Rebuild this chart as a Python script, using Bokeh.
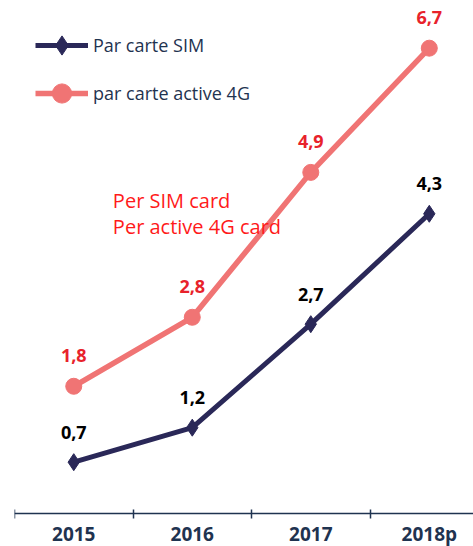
from bokeh.plotting import figure
from bokeh.models import Range1d, FixedTicker, Legend, LegendItem, Label, ColumnDataSource
from bokeh.embed import file_html
from bokeh.resources import INLINE
from bokeh.core.properties import value

years = ["2015", "2016", "2017", "2018p"]
per_sim = [0.7, 1.2, 2.7, 4.3]
per_4g = [1.8, 2.8, 4.9, 6.7]
sim_labels = ["0,7", "1,2", "2,7", "4,3"]
g4_labels = ["1,8", "2,8", "4,9", "6,7"]
legend_names = ["Par carte SIM", "par carte active 4G"]
note_lines = ["Per SIM card", "Per active 4G card"]

NAVY = "#2a2858"
SALMON = "#f07474"
RED = "#e8222b"
AXIS = "#1f3350"
FONT = "Open Sans"

xs = list(range(len(years)))

p = figure(width=473, height=546, output_backend="svg", toolbar_location=None,
           x_range=Range1d(-0.5, 3.373), y_range=Range1d(-0.522, 7.391),
           min_border_left=14, min_border_right=0, min_border_top=0, min_border_bottom=0)
p.outline_line_color = None
p.grid.visible = False
p.yaxis.visible = False
p.background_fill_color = "white"
p.border_fill_color = "white"

xa = p.xaxis[0]
xa.fixed_location = -0.043
xa.ticker = FixedTicker(ticks=xs, minor_ticks=[x - 0.5 for x in xs])
xa.major_label_overrides = {i: y for i, y in enumerate(years)}
xa.major_tick_in = 0
xa.major_tick_out = 0
xa.minor_tick_in = 4
xa.minor_tick_out = 5
xa.minor_tick_line_color = AXIS
xa.minor_tick_line_width = 1.5
xa.axis_line_color = AXIS
xa.axis_line_width = 1.5
xa.major_label_text_font = FONT
xa.major_label_text_font_style = "bold"
xa.major_label_text_font_size = "19px"
xa.major_label_text_color = AXIS
xa.major_label_standoff = 3

src = ColumnDataSource(dict(x=xs, sim=per_sim, g4=per_4g, sl=sim_labels, gl=g4_labels))

l2 = p.line("x", "g4", source=src, line_color=SALMON, line_width=5.5)
m2 = p.scatter("x", "g4", source=src, marker="circle", size=16, fill_color=SALMON, line_color=SALMON)
l1 = p.line("x", "sim", source=src, line_color=NAVY, line_width=5)
m1 = p.scatter("x", "sim", source=src, marker="diamond", size=17, fill_color=NAVY, line_color=NAVY)

p.text("x", "sim", text="sl", source=src, text_font=value(FONT), text_font_style="bold",
       text_font_size="18px", text_color="black", text_align="center",
       text_baseline="middle", y_offset=-30)
p.text("x", "g4", text="gl", source=src, text_font=value(FONT), text_font_style="bold",
       text_font_size="18px", text_color=RED, text_align="center",
       text_baseline="middle", y_offset=-31)

legend = Legend(items=[LegendItem(label=legend_names[0], renderers=[l1, m1]),
                       LegendItem(label=legend_names[1], renderers=[l2, m2])],
                location="top_left", margin=21, padding=0, spacing=0,
                glyph_width=53, glyph_height=48, label_height=48, label_standoff=5,
                label_text_font=FONT, label_text_font_size="18px", label_text_color=AXIS,
                background_fill_alpha=0, border_line_color=None)
p.add_layout(legend)

for i, t in enumerate(note_lines):
    p.add_layout(Label(x=0.33, y=4.49 - i * 0.377, text=t, text_font=FONT,
                       text_font_size="20px", text_color="#ff1a1a",
                       text_baseline="middle", text_align="left"))

open("out.html", "w").write(file_html(p, INLINE))
